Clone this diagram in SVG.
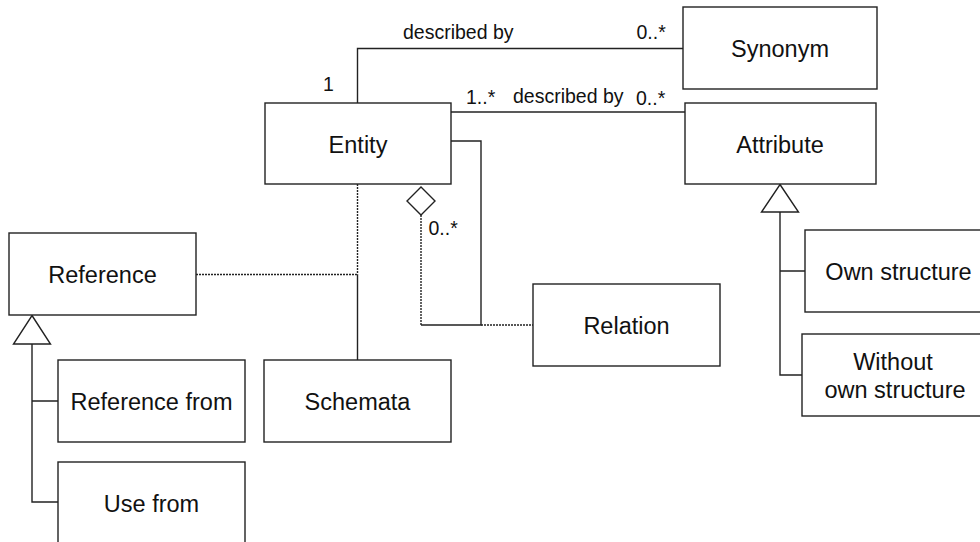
<svg xmlns="http://www.w3.org/2000/svg" width="980" height="542" viewBox="0 0 980 542">
  <style>
    .box { fill: #ffffff; stroke: #222222; stroke-width: 1.4; }
    .name { font-family: "Liberation Sans", Arial, sans-serif; font-size: 23.5px; fill: #111111; text-anchor: middle; }
    .lbl { font-family: "Liberation Sans", Arial, sans-serif; font-size: 19.5px; fill: #111111; }
    .line { fill: none; stroke: #222222; stroke-width: 1.4; }
    .dot { fill: none; stroke: #222222; stroke-width: 1.4; stroke-dasharray: 2 1; }
    .head { fill: #ffffff; stroke: #222222; stroke-width: 1.4; }
  </style>
  <rect width="980" height="542" fill="#ffffff"/>

  <g id="connectors">
    <!-- Entity – Synonym -->
    <path class="line" d="M357.5,103 V48.5 H683"/>
    <!-- Entity – Attribute -->
    <path class="line" d="M451,112 H685"/>
    <!-- Entity – Schemata, with Reference joined by a dotted link -->
    <path class="dot" d="M357.5,184 V274.5"/>
    <path class="line" d="M357.5,274.5 V360"/>
    <path class="dot" d="M196,274.5 H357.5"/>
    <!-- Self-aggregation of Entity with Relation as association class -->
    <path class="line" d="M451,141 H481 V325 H421"/>
    <path class="dot" d="M421,215 V325"/>
    <path class="dot" d="M481,325 H533"/>
    <polygon class="head" points="421,187 435,201 421,215 407,201"/>
    <!-- Reference generalization -->
    <path class="line" d="M32,344 V502 H58 M32,401 H58"/>
    <polygon class="head" points="32,315.5 50.5,344 13.5,344"/>
    <!-- Attribute generalization -->
    <path class="line" d="M780,212 V375 H802 M780,271 H805"/>
    <polygon class="head" points="780,184.5 798.5,212 761.5,212"/>
    <!-- Multiplicities and role names -->
    <text class="lbl" x="403" y="39">described by</text>
    <text class="lbl" x="636.5" y="39">0..*</text>
    <text class="lbl" x="323" y="90.5">1</text>
    <text class="lbl" x="466" y="104">1..*</text>
    <text class="lbl" x="513" y="103">described by</text>
    <text class="lbl" x="636" y="105">0..*</text>
    <text class="lbl" x="428.5" y="235">0..*</text>
  </g>

  <g id="entity">
    <rect class="box" x="265" y="103" width="186" height="81"/>
    <text class="name" x="358" y="152.5">Entity</text>
  </g>
  <g id="synonym">
    <rect class="box" x="683" y="7" width="194" height="82"/>
    <text class="name" x="780" y="56.5">Synonym</text>
  </g>
  <g id="attribute">
    <rect class="box" x="685" y="103" width="191" height="81"/>
    <text class="name" x="780" y="152.5">Attribute</text>
  </g>
  <g id="reference">
    <rect class="box" x="9" y="233" width="187" height="82"/>
    <text class="name" x="102.5" y="282.5">Reference</text>
  </g>
  <g id="reference-from">
    <rect class="box" x="58" y="360" width="187" height="82"/>
    <text class="name" x="151.5" y="410">Reference from</text>
  </g>
  <g id="use-from">
    <rect class="box" x="58" y="462" width="187" height="82"/>
    <text class="name" x="151.5" y="512">Use from</text>
  </g>
  <g id="schemata">
    <rect class="box" x="264" y="360" width="187" height="82"/>
    <text class="name" x="357.5" y="410">Schemata</text>
  </g>
  <g id="relation">
    <rect class="box" x="533" y="284" width="187" height="82"/>
    <text class="name" x="626.5" y="334">Relation</text>
  </g>
  <g id="own-structure">
    <rect class="box" x="805" y="230" width="187" height="82"/>
    <text class="name" x="898.5" y="280">Own structure</text>
  </g>
  <g id="without-own-structure">
    <rect class="box" x="802" y="334" width="187" height="82"/>
    <text class="name" x="893" y="370">Without</text>
    <text class="name" x="895" y="398">own structure</text>
  </g>
</svg>
